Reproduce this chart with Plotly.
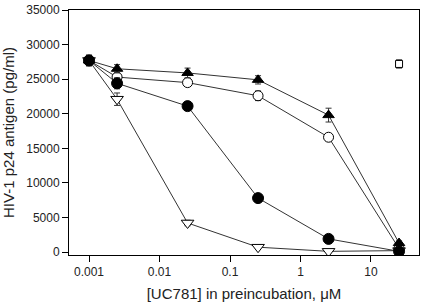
import plotly.graph_objects as go

conc = [0.001, 0.0025, 0.025, 0.25, 2.5, 25]

tri_up = [27700, 26500, 25900, 24900, 19800, 1300]
tri_up_err = [700, 600, 700, 600, 1000, 300]

circ_open = [27700, 25300, 24500, 22600, 16600, 500]
circ_open_err = [700, 600, 500, 700, 400, 200]

circ_fill = [27700, 24400, 21100, 7800, 1900, 100]
circ_fill_err = [800, 800, 600, 300, 300, 100]

tri_down = [27700, 22100, 4200, 700, 100, 200]
tri_down_err = [700, 900, 400, 100, 100, 100]

sq_x = [25]
sq_y = [27200]
sq_err = [600]

x_ticks = [0.001, 0.01, 0.1, 1, 10]
x_tick_labels = ["0.001", "0.01", "0.1", "1", "10"]
y_ticks = [0, 5000, 10000, 15000, 20000, 25000, 30000, 35000]
y_tick_labels = ["0", "5000", "10000", "15000", "20000", "25000", "30000", "35000"]

fig = go.Figure()

def add(y, err, symbol, fill, size=10):
    fig.add_trace(go.Scatter(
        x=conc, y=y, mode="lines+markers",
        line=dict(color="#333333", width=1),
        marker=dict(symbol=symbol, size=size, color=fill,
                    line=dict(color="black", width=1)),
        error_y=dict(type="data", array=err, color="#333333", thickness=1, width=3),
        showlegend=False,
    ))

add(tri_down, tri_down_err, "triangle-down", "white", 11)
add(circ_open, circ_open_err, "circle", "white")
add(tri_up, tri_up_err, "triangle-up", "black")
add(circ_fill, circ_fill_err, "circle", "black", 11)

fig.add_trace(go.Scatter(
    x=sq_x, y=sq_y, mode="markers",
    marker=dict(symbol="square", size=7, color="white",
                line=dict(color="black", width=1)),
    error_y=dict(type="data", array=sq_err, color="#333333", thickness=1, width=3),
    showlegend=False,
))

fig.update_layout(
    width=422, height=308,
    margin=dict(l=69, r=3, t=10, b=53),
    paper_bgcolor="white", plot_bgcolor="white",
    font=dict(family="Arial, Liberation Sans, sans-serif", color="#222222", size=12),
    xaxis=dict(
        type="log", range=[-3.284, 1.681], automargin=False,
        tickvals=x_ticks, ticktext=x_tick_labels,
        ticks="outside", ticklen=6, tickcolor="black",
        showline=True, linecolor="black", linewidth=1, mirror=True,
        showgrid=False, zeroline=False,
        title=dict(text="[UC781] in preincubation, μM", font=dict(size=15), standoff=10),
        tickfont=dict(size=12),
    ),
    yaxis=dict(
        range=[-430, 35000], automargin=False,
        tickvals=y_ticks, ticktext=y_tick_labels,
        ticks="outside", ticklen=6, tickcolor="black",
        showline=True, linecolor="black", linewidth=1, mirror=True,
        showgrid=False, zeroline=False,
        title=dict(text="HIV-1 p24 antigen (pg/ml)", font=dict(size=15), standoff=8),
        tickfont=dict(size=12),
    ),
)

fig.write_html("out.html", config={"displayModeBar": False},
               post_script="document.body.style.margin='0';")
